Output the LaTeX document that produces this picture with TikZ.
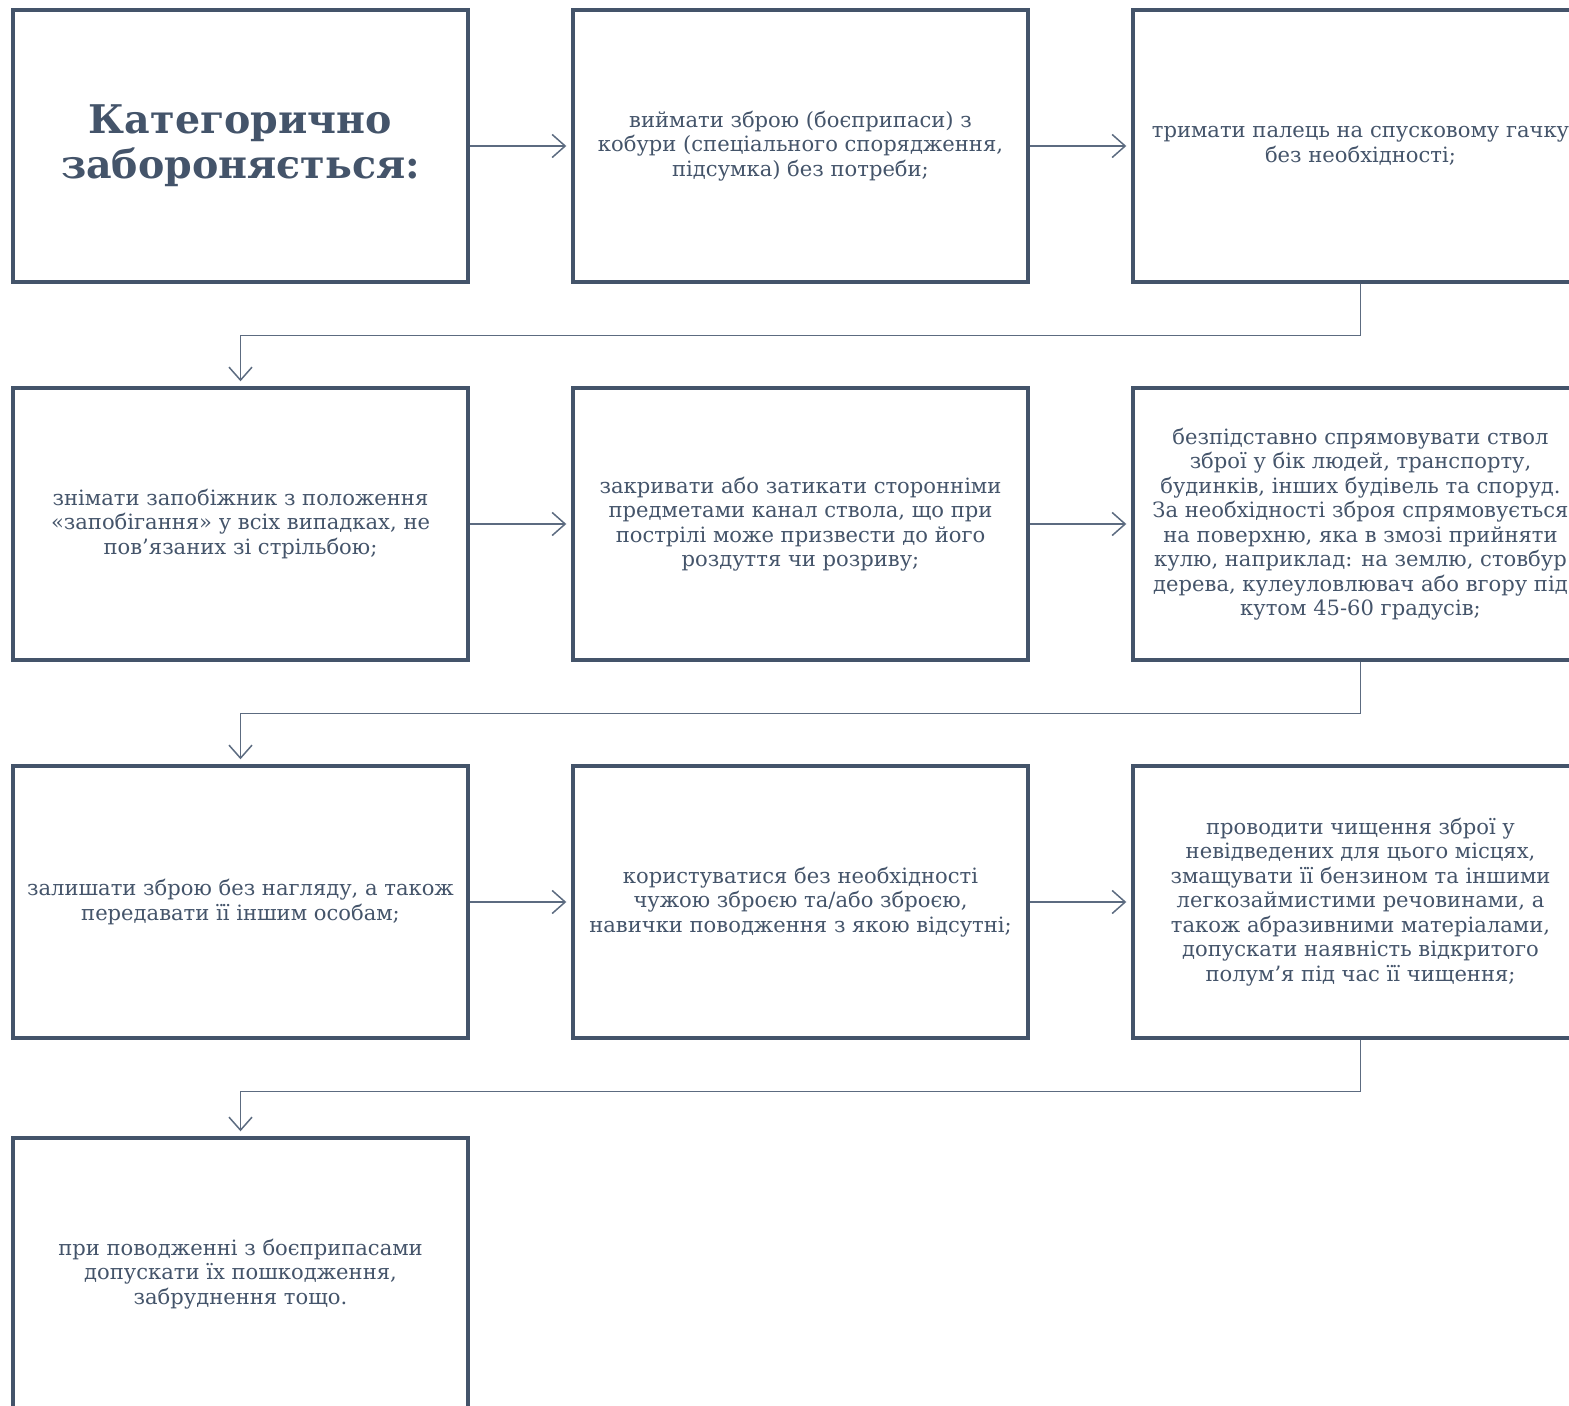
\documentclass[tikz,border=0pt]{standalone}
\usepackage{fontspec}
\setmainfont{DejaVu Serif}
\usepackage{xcolor}
\usepackage{tikz}
\usetikzlibrary{arrows.meta}
\definecolor{SlateInk}{HTML}{44546A}
\definecolor{SlateLine}{HTML}{5C6B80}

\begin{document}
\begin{tikzpicture}[
  x=0.02cm, y=-0.02cm,
  rulebox/.style={draw=SlateInk, line width=2pt, minimum width=9.1cm, minimum height=5.44cm, align=center, inner sep=4pt, text=SlateInk, font=\fontsize{12}{13.95}\selectfont},
  headbox/.style={rulebox, font=\fontsize{22.5}{25.6}\selectfont\bfseries},
  ra/.style={-{Straight Barb[length=0.26cm, width=0.46cm, line width=0.85pt]}, draw=SlateLine, line width=0.85pt, shorten >=0.1cm}
]
\useasboundingbox (0,0) rectangle (1569,1406);
\node[headbox] (b1) at (240.5, 146) {Категорично\\забороняється:};
\node[rulebox] (b2) at (800.5, 146) {виймати зброю (боєприпаси) з\\кобури (спеціального спорядження,\\підсумка) без потреби;};
\node[rulebox] (b3) at (1360.5, 146) {тримати палець на спусковому гачку\\без необхідності;};
\node[rulebox] (b4) at (240.5, 524) {знімати запобіжник з положення\\«запобігання» у всіх випадках, не\\пов’язаних зі стрільбою;};
\node[rulebox] (b5) at (800.5, 524) {закривати або затикати сторонніми\\предметами канал ствола, що при\\пострілі може призвести до його\\роздуття чи розриву;};
\node[rulebox] (b6) at (1360.5, 524) {безпідставно спрямовувати ствол\\зброї у бік людей, транспорту,\\будинків, інших будівель та споруд.\\За необхідності зброя спрямовується\\на поверхню, яка в змозі прийняти\\кулю, наприклад: на землю, стовбур\\дерева, кулеуловлювач або вгору під\\кутом 45-60 градусів;};
\node[rulebox] (b7) at (240.5, 902) {залишати зброю без нагляду, а також\\передавати її іншим особам;};
\node[rulebox] (b8) at (800.5, 902) {користуватися без необхідності\\чужою зброєю та/або зброєю,\\навички поводження з якою відсутні;};
\node[rulebox] (b9) at (1360.5, 902) {проводити чищення зброї у\\невідведених для цього місцях,\\змащувати її бензином та іншими\\легкозаймистими речовинами, а\\також абразивними матеріалами,\\допускати наявність відкритого\\полум’я під час її чищення;};
\node[rulebox] (b10) at (240.5, 1274) {при поводженні з боєприпасами\\допускати їх пошкодження,\\забруднення тощо.};
\foreach \a/\b in {1/2, 2/3, 4/5, 5/6, 7/8, 8/9}{
  \draw[ra] (b\a.east) -- (b\b.west);
}
\foreach \a/\b in {3/4, 6/7, 9/10}{
  \draw[ra] (b\a.south) -- ++(0, 52) -| (b\b.north);
}
\end{tikzpicture}
\end{document}
